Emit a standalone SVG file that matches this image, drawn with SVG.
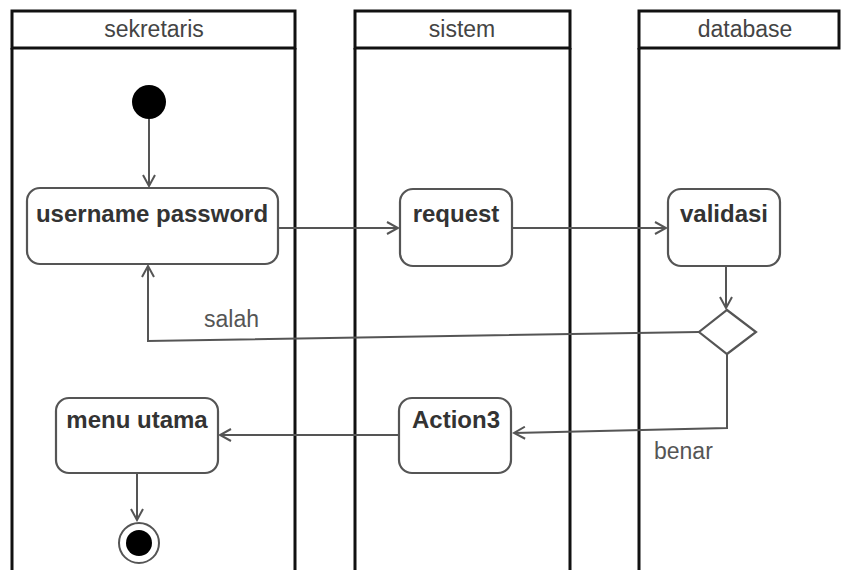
<svg xmlns="http://www.w3.org/2000/svg" width="843" height="570" viewBox="0 0 843 570">
<style>
.lane{fill:none;stroke:#111;stroke-width:3}
.hdr{fill:#fff;stroke:#111;stroke-width:3}
.htxt{font-family:"Liberation Sans",Arial,sans-serif;font-size:23px;fill:#444;text-anchor:middle}
.act{fill:#fff;stroke:#555;stroke-width:2.2}
.atxt{font-family:"Liberation Sans",Arial,sans-serif;font-size:24px;font-weight:bold;fill:#333;text-anchor:middle}
.lbl{font-family:"Liberation Sans",Arial,sans-serif;font-size:23px;fill:#555}
.edge{fill:none;stroke:#555;stroke-width:2}
</style>
<defs>
<marker id="arr" markerWidth="14" markerHeight="14" refX="12" refY="7" orient="auto" markerUnits="userSpaceOnUse">
<path d="M1,1 L12,7 L1,13" fill="none" stroke="#555" stroke-width="2"/>
</marker>
</defs>
<rect width="843" height="570" fill="#fff"/>
<g id="lane-sekretaris">
<path class="lane" d="M12,48 V570 M295,48 V570"/>
<rect class="hdr" x="12" y="11" width="283" height="37"/>
<text class="htxt" x="154" y="37">sekretaris</text>
</g>
<g id="lane-sistem">
<path class="lane" d="M355,48 V570 M570,48 V570"/>
<rect class="hdr" x="355" y="11" width="215" height="37"/>
<text class="htxt" x="462" y="37">sistem</text>
</g>
<g id="lane-database">
<path class="lane" d="M639,48 V570"/>
<rect class="hdr" x="639" y="11" width="200" height="37"/>
<text class="htxt" x="745" y="37">database</text>
</g>
<g id="connectors">
<path class="edge" d="M149,119 V186" marker-end="url(#arr)"/>
<path class="edge" d="M278,228 H398" marker-end="url(#arr)"/>
<path class="edge" d="M512,228 H666" marker-end="url(#arr)"/>
<path class="edge" d="M726,266 V308" marker-end="url(#arr)"/>
<path class="edge" d="M699,332 L148,341 V266" marker-end="url(#arr)"/>
<path class="edge" d="M727,354 V428 L514,433" marker-end="url(#arr)"/>
<path class="edge" d="M398,435 H220" marker-end="url(#arr)"/>
<path class="edge" d="M137,473 V520" marker-end="url(#arr)"/>
<text class="lbl" x="204" y="327">salah</text>
<text class="lbl" x="654" y="459">benar</text>
</g>
<g id="start">
<circle cx="149" cy="102" r="17" fill="#000"/>
</g>
<g id="username-password">
<rect class="act" x="27" y="188" width="251" height="76" rx="13"/>
<text class="atxt" x="152" y="222">username password</text>
</g>
<g id="request">
<rect class="act" x="400" y="189" width="112" height="77" rx="13"/>
<text class="atxt" x="456" y="222">request</text>
</g>
<g id="validasi">
<rect class="act" x="668" y="189" width="112" height="77" rx="13"/>
<text class="atxt" x="724" y="222">validasi</text>
</g>
<g id="decision">
<path class="act" d="M727,310 L756,332 L727,354 L699,332 Z"/>
</g>
<g id="action3">
<rect class="act" x="399" y="398" width="112" height="75" rx="13"/>
<text class="atxt" x="456" y="428">Action3</text>
</g>
<g id="menu-utama">
<rect class="act" x="56" y="398" width="162" height="75" rx="13"/>
<text class="atxt" x="137" y="428">menu utama</text>
</g>
<g id="end">
<circle cx="139" cy="543" r="20" fill="#fff" stroke="#555" stroke-width="2"/>
<circle cx="139" cy="543" r="13" fill="#000"/>
</g>
</svg>
